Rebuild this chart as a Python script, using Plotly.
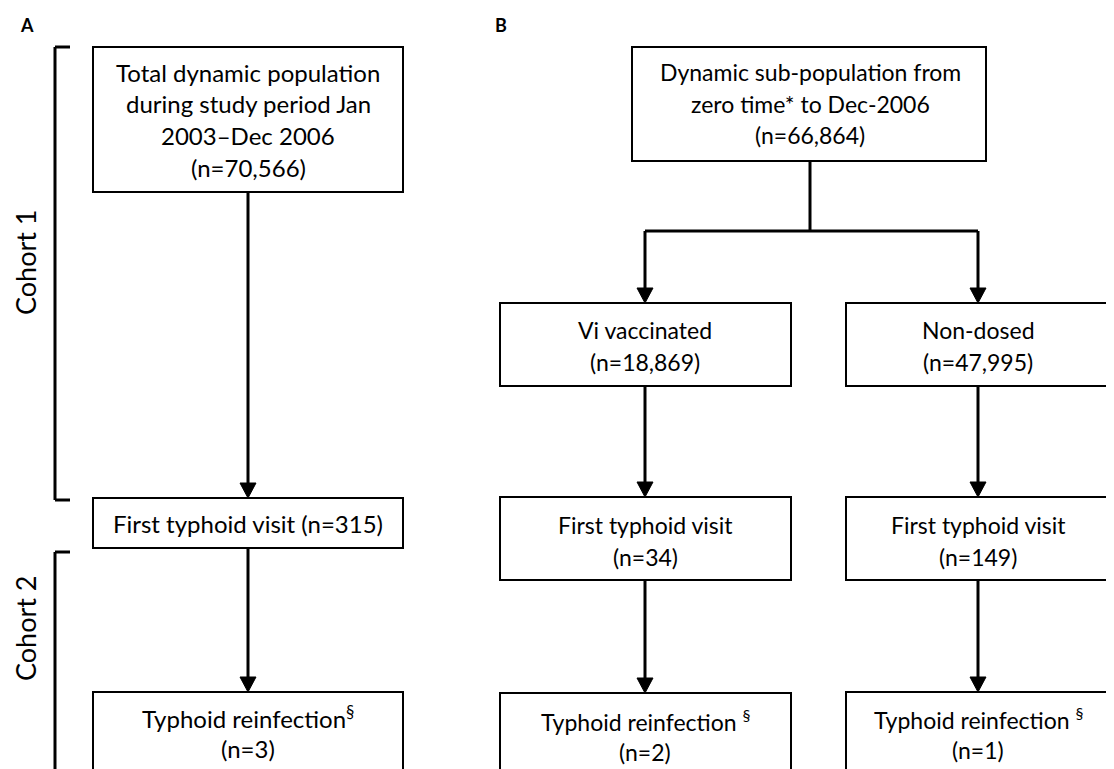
import plotly.graph_objects as go

# ---------------- data ----------------
panel_labels = ["A", "B"]
cohort_labels = ["Cohort 1", "Cohort 2"]

a_titles = [["Total dynamic population", "during study period Jan", "2003\u2013Dec 2006"],
            ["First typhoid visit"],
            ["Typhoid reinfection<sup>\u00a7</sup>"]]
a_counts = [70566, 315, 3]

b_top_title = ["Dynamic sub-population from", "zero time* to Dec-2006"]
b_top_count = 66864
b_groups = ["Vi vaccinated", "Non-dosed"]
b_group_counts = [18869, 47995]
b_first_title = "First typhoid visit"
b_first_counts = [34, 149]
b_reinf_title = "Typhoid reinfection <sup>\u00a7</sup>"
b_reinf_counts = [2, 1]

FONT = "Lato"
FS_A = 24
FS_B = 23
LW = 2
AW = 3
OFF = 8  # page body margin compensation
SP = 31.7  # line spacing

fig = go.Figure()
shapes = []
annotations = []


def box(x0, y0, x1, y1):
    shapes.append(dict(type="rect", x0=x0, y0=y0, x1=x1, y1=y1, xref="x", yref="y",
                       line=dict(color="black", width=LW), fillcolor="rgba(0,0,0,0)"))


def line(x0, y0, x1, y1, w=AW):
    shapes.append(dict(type="line", x0=x0, y0=y0, x1=x1, y1=y1, xref="x", yref="y",
                       line=dict(color="black", width=w)))


def arrow(x, y0, y1):
    hl, hw = 15, 8
    line(x, y0, x, y1 - hl + 1)
    shapes.append(dict(type="path", path=f"M {x-hw},{y1-hl} L {x+hw},{y1-hl} L {x},{y1} Z",
                       xref="x", yref="y", fillcolor="black", line=dict(color="black", width=1)))


def text(x, y, s, size=FS_A, **kw):
    annotations.append(dict(x=x, y=y, xref="x", yref="y", text=s, showarrow=False,
                            font=dict(family=FONT, size=size, color="black"),
                            align="center", xanchor="center", yanchor="middle", **kw))


def lines(x, y_first, items, size):
    for k, s in enumerate(items):
        text(x, y_first + k * SP, s, size=size)


def fmt(n):
    return f"(n={n:,})"

# ---------------- panel A ----------------
ax_c = 248
box(93, 47, 403, 192)
lines(ax_c, 72, a_titles[0] + [fmt(a_counts[0])], FS_A)
arrow(ax_c, 192, 498)
box(93, 498, 403, 548)
lines(ax_c, 523, [a_titles[1][0] + " " + fmt(a_counts[1])], FS_A)
arrow(ax_c, 548, 692)
box(93, 692, 403, 800)
lines(ax_c, 717, a_titles[2] + [fmt(a_counts[2])], FS_A)

# brackets
line(55, 47, 55, 500, w=LW + 1)
line(55, 47, 70, 47, w=LW + 1)
line(55, 500, 70, 500, w=LW + 1)
line(55, 552, 55, 800, w=LW + 1)
line(55, 552, 70, 552, w=LW + 1)
text(25, 262, cohort_labels[0], size=27, textangle=-90)
text(25, 628, cohort_labels[1], size=27, textangle=-90)

# panel labels
text(27, 25, "<b>" + panel_labels[0] + "</b>", size=18)
text(501, 25, "<b>" + panel_labels[1] + "</b>", size=18)

# ---------------- panel B ----------------
bx_c = 810
box(632, 47, 986, 161)
lines(bx_c, 72, b_top_title + [fmt(b_top_count)], FS_B)
line(bx_c, 161, bx_c, 231)
centers = [645, 978]
lefts = [500, 846]
rights = [791, 1111]
reinf_y = [720, 718]
line(centers[0], 231, centers[1], 231)
for i in range(2):
    c = centers[i]
    arrow(c, 231, 303)
    box(lefts[i], 303, rights[i], 386)
    lines(c, 330, [b_groups[i], fmt(b_group_counts[i])], FS_B)
    arrow(c, 386, 497)
    box(lefts[i], 497, rights[i], 580)
    lines(c, 525, [b_first_title, fmt(b_first_counts[i])], FS_B)
    arrow(c, 580, 693 - 1 * i)
    box(lefts[i], 693 - 1 * i, rights[i], 800)
    lines(c, reinf_y[i], [b_reinf_title, fmt(b_reinf_counts[i])], FS_B)

fig.update_layout(
    width=1114, height=769,
    margin=dict(l=0, r=0, t=0, b=0),
    plot_bgcolor="white", paper_bgcolor="white",
    shapes=shapes, annotations=annotations,
    showlegend=False,
    xaxis=dict(range=[OFF, 1114 + OFF], visible=False, fixedrange=True),
    yaxis=dict(range=[769 + OFF, OFF], visible=False, fixedrange=True),
)
fig.write_html("out.html")
